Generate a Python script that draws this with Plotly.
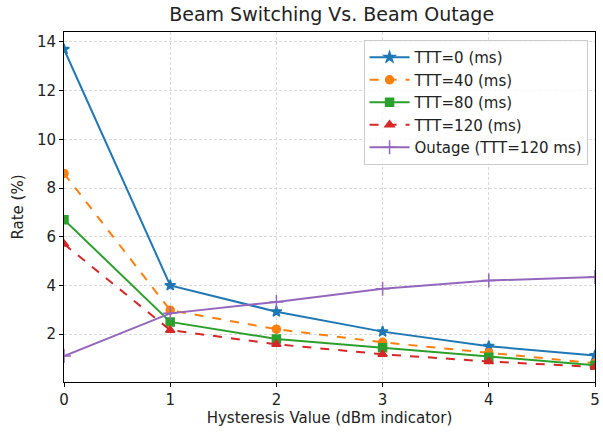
import plotly.graph_objects as go

hysteresis = [0, 1, 2, 3, 4, 5]
ttt0 = [13.7, 4.0, 2.92, 2.1, 1.5, 1.12]
ttt40 = [8.6, 2.98, 2.2, 1.66, 1.23, 0.8]
ttt80 = [6.7, 2.5, 1.8, 1.44, 1.05, 0.72]
ttt120 = [5.7, 2.16, 1.58, 1.17, 0.87, 0.65]
outage = [1.1, 2.85, 3.32, 3.86, 4.2, 4.34]

series = [
    ("TTT=0 (ms)", ttt0, "#1f77b4", "solid", "star", 8),
    ("TTT=40 (ms)", ttt40, "#ff7f0e", "dash", "circle", 8),
    ("TTT=80 (ms)", ttt80, "#2ca02c", "solid", "square", 8),
    ("TTT=120 (ms)", ttt120, "#d62728", "dash", "triangle-up", 8),
    ("Outage (TTT=120 ms)", outage, "#9467bd", "solid", "cross-thin", 10),
]

fig = go.Figure()
for name, vals, color, dash, sym, size in series:
    fig.add_trace(go.Scatter(
        x=hysteresis, y=vals, name=name, mode="lines+markers",
        line=dict(color=color, width=2, dash=dash),
        marker=dict(symbol=sym, size=size, color=color,
                    line=dict(color=color, width=1.5)),
    ))

font = "DejaVu Sans, sans-serif"
axis_common = dict(
    showline=True, linecolor="black", linewidth=1, mirror=True,
    ticks="outside", ticklen=4, tickcolor="black",
    showgrid=True, gridcolor="#d9d9d9", griddash="3px,2px", gridwidth=0.8,
    zeroline=False, tickfont=dict(family=font, size=15, color="#222"),
)
fig.update_layout(
    width=603, height=436,
    margin=dict(l=64, r=3, t=32, b=54),
    paper_bgcolor="white", plot_bgcolor="white",
    font=dict(family=font, size=15, color="#222"),
    title=dict(text="Beam Switching Vs. Beam Outage", x=0.55, xanchor="center",
               y=0.968, yanchor="middle", font=dict(family=font, size=19, color="#222")),
    xaxis=dict(range=[0, 5], tickvals=[0, 1, 2, 3, 4, 5], ticklabeloverflow="allow",
               title=dict(text="Hysteresis Value (dBm indicator)", standoff=4,
                          font=dict(family=font, size=15)),
               **axis_common),
    yaxis=dict(range=[0.03, 14.41], tickvals=[2, 4, 6, 8, 10, 12, 14],
               title=dict(text="Rate (%)", standoff=9, font=dict(family=font, size=15)),
               **axis_common),
    legend=dict(x=0.986, xanchor="right", y=0.977, yanchor="top",
                bgcolor="rgba(255,255,255,0.8)", bordercolor="#cccccc", borderwidth=1,
                font=dict(family=font, size=15, color="#222"), itemwidth=40,
                tracegroupgap=0),
)

fig.write_html("out.html")
